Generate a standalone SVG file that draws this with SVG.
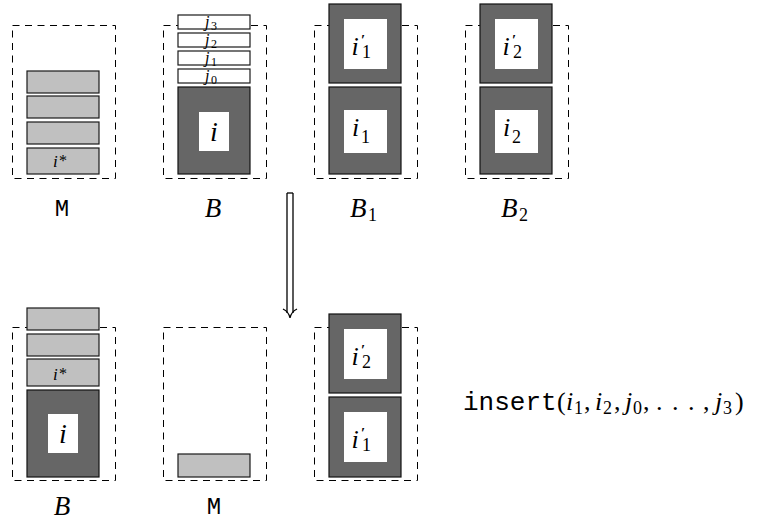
<svg xmlns="http://www.w3.org/2000/svg" width="761" height="525" viewBox="0 0 761 525">
<style>
.dash{fill:none;stroke:#000;stroke-width:1;stroke-dasharray:7,5.5}
.lg{fill:#c0c0c0;stroke:#1a1a1a;stroke-width:1.2}
.wb{fill:#fff;stroke:#1a1a1a;stroke-width:1.2}
.dk{fill:#666;stroke:#111;stroke-width:1.2}
.in{fill:#fff;stroke:none}
.mi{font-family:"Liberation Serif","DejaVu Serif",serif;font-style:italic;fill:#000}
.rm{font-family:"Liberation Serif","DejaVu Serif",serif;font-style:normal;fill:#000}
.tt{font-family:"Liberation Mono","DejaVu Sans Mono",monospace;fill:#000}
.big{font-size:26px}
.sub{font-size:18px}
.pr{font-size:15px;font-weight:bold}
.arr{fill:none;stroke:#000;stroke-width:1.3}
</style>
<rect width="761" height="525" fill="#fff"/>

<g id="M-top">
<rect class="dash" x="12.5" y="25.5" width="103" height="153"/>
<rect class="lg" x="27" y="71" width="72" height="22"/>
<rect class="lg" x="27" y="96" width="72" height="22"/>
<rect class="lg" x="27" y="122" width="72" height="22"/>
<rect class="lg" x="27" y="148" width="72" height="26"/>
<text class="mi" x="53" y="167" font-size="17">i</text>
<text class="rm" x="59" y="166" font-size="16">*</text>
<text class="tt" x="62" y="216" font-size="24" text-anchor="middle">M</text>
</g>

<g id="B-top">
<rect class="dash" x="163.5" y="25.5" width="103" height="153"/>
<rect class="wb" x="178" y="15" width="72" height="14"/>
<rect class="wb" x="178" y="33" width="72" height="14"/>
<rect class="wb" x="178" y="51" width="72" height="14"/>
<rect class="wb" x="178" y="69" width="72" height="14"/>
<text class="mi" x="205" y="27" font-size="16">j</text><text class="rm" x="211" y="29.5" font-size="12">3</text>
<text class="mi" x="205" y="45" font-size="16">j</text><text class="rm" x="211" y="47.5" font-size="12">2</text>
<text class="mi" x="205" y="63" font-size="16">j</text><text class="rm" x="211" y="65.5" font-size="12">1</text>
<text class="mi" x="205" y="81" font-size="16">j</text><text class="rm" x="211" y="83.5" font-size="12">0</text>
<rect class="dk" x="178" y="87" width="72" height="87"/>
<rect class="in" x="199" y="112" width="30" height="39"/>
<text class="mi" x="214" y="140.5" font-size="28" text-anchor="middle">i</text>
<text class="mi" x="213" y="217" font-size="27" text-anchor="middle">B</text>
</g>

<g id="B1-top">
<rect class="dash" x="314.5" y="25.5" width="103" height="153"/>
<rect class="dk" x="329" y="4" width="72" height="79"/>
<rect class="in" x="344" y="19" width="43" height="50"/>
<text class="mi big" x="351.5" y="55">i</text>
<text class="rm pr" x="361" y="45">′</text>
<text class="rm sub" x="362" y="58">1</text>
<rect class="dk" x="329" y="87" width="72" height="87"/>
<rect class="in" x="344" y="110" width="43" height="43"/>
<text class="mi big" x="352" y="136">i</text>
<text class="rm sub" x="361" y="143">1</text>
<text class="mi" x="350" y="217" font-size="27">B</text>
<text class="rm sub" x="368" y="221">1</text>
</g>

<g id="B2-top">
<rect class="dash" x="465.5" y="25.5" width="103" height="153"/>
<rect class="dk" x="480" y="4" width="72" height="79"/>
<rect class="in" x="495" y="19" width="43" height="50"/>
<text class="mi big" x="502.5" y="55">i</text>
<text class="rm pr" x="512" y="45">′</text>
<text class="rm sub" x="513" y="58">2</text>
<rect class="dk" x="480" y="87" width="72" height="87"/>
<rect class="in" x="495" y="110" width="43" height="43"/>
<text class="mi big" x="503" y="136">i</text>
<text class="rm sub" x="512" y="143">2</text>
<text class="mi" x="501" y="217" font-size="27">B</text>
<text class="rm sub" x="519" y="221">2</text>
</g>

<g id="connectors">
<line class="arr" x1="287" y1="193" x2="287" y2="313"/>
<line class="arr" x1="293" y1="193" x2="293" y2="313"/>
<line class="arr" x1="287" y1="193" x2="293" y2="193"/>
<path class="arr" d="M283,309 Q289,312 290,318 Q291,312 297,309"/>
</g>

<g id="B-bottom">
<rect class="dash" x="12.5" y="327.5" width="103" height="153"/>
<rect class="lg" x="27" y="308" width="72" height="22"/>
<rect class="lg" x="27" y="334" width="72" height="22"/>
<rect class="lg" x="27" y="359" width="72" height="27"/>
<text class="mi" x="53" y="380" font-size="17">i</text>
<text class="rm" x="59" y="379" font-size="16">*</text>
<rect class="dk" x="27" y="390" width="72" height="87"/>
<rect class="in" x="48" y="414" width="30" height="39"/>
<text class="mi" x="63" y="442.5" font-size="28" text-anchor="middle">i</text>
<text class="mi" x="62" y="515" font-size="27" text-anchor="middle">B</text>
</g>

<g id="M-bottom">
<rect class="dash" x="163.5" y="327.5" width="103" height="153"/>
<rect class="lg" x="178" y="454" width="72" height="23"/>
<text class="tt" x="214" y="514" font-size="24" text-anchor="middle">M</text>
</g>

<g id="B1-bottom">
<rect class="dash" x="314.5" y="327.5" width="103" height="153"/>
<rect class="dk" x="329" y="314" width="72" height="79"/>
<rect class="in" x="344" y="329" width="43" height="50"/>
<text class="mi big" x="351.5" y="365">i</text>
<text class="rm pr" x="361" y="355">′</text>
<text class="rm sub" x="362" y="368">2</text>
<rect class="dk" x="329" y="397" width="72" height="80"/>
<rect class="in" x="344" y="412" width="43" height="50"/>
<text class="mi big" x="351.5" y="448">i</text>
<text class="rm pr" x="361" y="438">′</text>
<text class="rm sub" x="362" y="451">1</text>
</g>

<g id="insert-label">
<text class="tt" x="463" y="410" font-size="26">insert</text>
<text class="rm big" x="557" y="410">(</text>
<text class="mi big" x="566" y="410">i</text>
<text class="rm sub" x="574" y="414">1</text>
<text class="rm big" x="584" y="410">,</text>
<text class="mi big" x="595" y="410">i</text>
<text class="rm sub" x="603" y="414">2</text>
<text class="rm big" x="614" y="410">,</text>
<text class="mi big" x="625" y="410">j</text>
<text class="rm sub" x="633" y="414">0</text>
<text class="rm big" x="643" y="410">,</text>
<text class="rm big" x="656" y="410">.</text>
<text class="rm big" x="672" y="410">.</text>
<text class="rm big" x="688" y="410">.</text>
<text class="rm big" x="703" y="410">,</text>
<text class="mi big" x="715" y="410">j</text>
<text class="rm sub" x="723" y="414">3</text>
<text class="rm big" x="735" y="410">)</text>
</g>
</svg>
